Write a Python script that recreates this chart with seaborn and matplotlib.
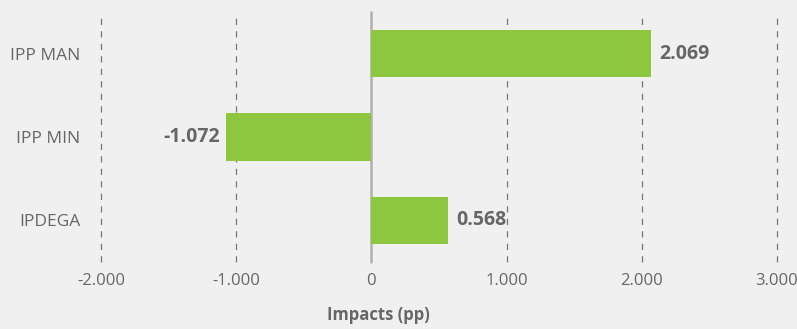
import matplotlib
matplotlib.use("Agg")
import matplotlib.pyplot as plt
import seaborn as sns
import pandas as pd
from matplotlib.ticker import FuncFormatter

categories = ["IPP MAN", "IPP MIN", "IPDEGA"]
impacts = [2069, -1072, 568]
value_labels = ["2.069", "-1.072", "0.568"]
xticks = [-2000, -1000, 0, 1000, 2000, 3000]

df = pd.DataFrame({"cat": categories, "val": impacts})

sns.set_theme(style="white")
plt.rcParams["font.family"] = ["Open Sans", "DejaVu Sans"]

bg = "#f0f0f0"
txt = "#666666"
green = "#8dc63f"

fig = plt.figure(figsize=(7.97, 3.29), dpi=100, facecolor=bg)
ax = fig.add_axes([101/797, 1 - 262/329, (777-101)/797, (262-12)/329])
ax.set_facecolor(bg)

sns.barplot(data=df, x="val", y="cat", color=green, saturation=1, width=0.57,
            ax=ax, orient="h", linewidth=0, edgecolor="none")

ax.set_xlim(-2000, 3000)
ax.set_ylim(2.5, -0.5)
ax.set_xticks(xticks)
ax.xaxis.set_major_formatter(FuncFormatter(lambda v, p: f"{int(v):,}".replace(",", ".")))
for t in xticks:
    if t == 0:
        ax.axvline(t, color="#b0b0b0", lw=1.8, zorder=0.5, clip_on=False)
    else:
        ax.axvline(t, color="#777777", lw=0.9, ls=(0, (5, 5)), zorder=0.5, clip_on=False)

for s in ax.spines.values():
    s.set_visible(False)
ax.tick_params(axis="x", length=0, labelsize=12, colors=txt, pad=8)
ax.tick_params(axis="y", length=0, labelsize=12.5, colors=txt, pad=15)
ax.set_ylabel("")
ax.set_xlabel("Impacts (pp)", fontsize=12, fontweight="bold", color=txt)
ax.xaxis.set_label_coords((378 - 101) / 676, -(315 - 262) / 250)
ax.xaxis.label.set_va("center")

for i, (v, lab) in enumerate(zip(impacts, value_labels)):
    off = 60 if v >= 0 else -45
    ax.text(v + off, i, lab, ha="left" if v >= 0 else "right", va="center",
            fontsize=14, fontweight="bold", color=txt)

fig.savefig("out.png", dpi=100, facecolor=bg)
